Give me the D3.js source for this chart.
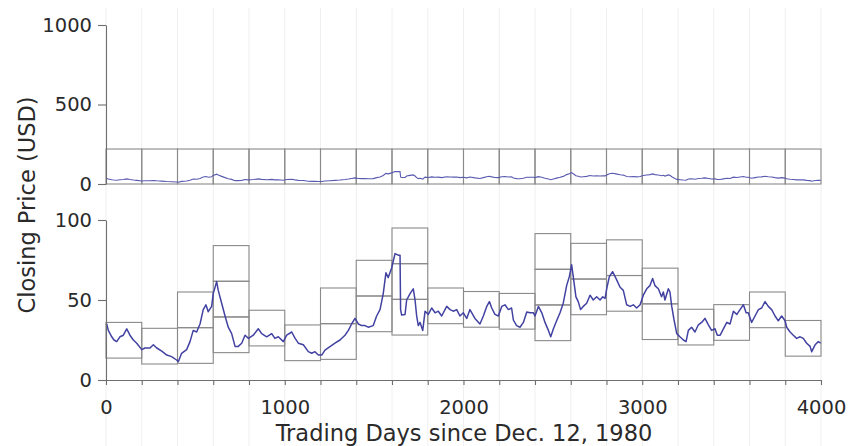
<!DOCTYPE html>
<html><head><meta charset="utf-8">
<script src="https://cdn.jsdelivr.net/npm/d3@7"></script>
<style>
body{margin:0;background:#fff}
svg{display:block}
text{font-family:"DejaVu Sans",sans-serif;fill:#2a2a2a}
</style>
</head><body>
<svg id="c" width="850" height="446"></svg>
<script>
// ---- data ----
const days = [0,4,13,32,45,60,78,97,116,134,153,172,200,218,246,265,284,312,340,367,395,405,423,451,470,488,507,526,544,559,572,591,600,619,628,647,666,684,703,722,740,759,778,797,824,852,871,899,927,945,964,992,1011,1039,1058,1076,1104,1132,1151,1169,1188,1207,1225,1253,1281,1309,1337,1356,1374,1393,1412,1430,1449,1467,1495,1514,1533,1551,1566,1579,1598,1617,1635,1645,1648,1654,1673,1682,1701,1719,1729,1738,1747,1757,1772,1785,1803,1822,1841,1859,1878,1906,1925,1943,1962,1980,1999,2018,2036,2064,2092,2111,2130,2145,2158,2176,2195,2214,2232,2251,2269,2279,2297,2316,2335,2354,2372,2391,2400,2419,2438,2456,2475,2488,2503,2521,2540,2558,2577,2592,2605,2614,2629,2642,2655,2670,2689,2708,2726,2745,2764,2779,2792,2801,2816,2834,2853,2876,2894,2913,2932,2950,2969,2988,3006,3025,3043,3058,3071,3090,3108,3118,3127,3146,3155,3165,3178,3193,3211,3230,3245,3258,3276,3295,3314,3332,3351,3370,3388,3407,3420,3436,3454,3473,3491,3510,3529,3547,3566,3581,3593,3612,3631,3650,3668,3687,3705,3724,3743,3761,3780,3799,3808,3827,3845,3864,3883,3901,3920,3939,3948,3967,3985,3998];
const prices = [34.5,35,31,27,25,24,27,28,32,28,25,23,19,20,20,22,20,18,15.6,14.6,12.5,11.5,16.7,19,24,31,30,35,44,47,42.7,46,54,61.5,56,48,40,33,29,21,21,23,28,26,28,32,29,27,29,26,27,24,28,30,26,23,22,17.7,16.7,17.7,15.6,15.6,18.7,20.8,23,25,28,31,35,38.5,35,34,34,33,34,40,44,54,67,64,70,79,78,78,44,40.6,41,50,54,57,50,40,34,36,31,43,41,45,42,43,40,46,44,43,44,40,42,38.5,44,38.5,35,40,46,49,45,41,40,46,47,44,45,37.5,34,33,36,42.5,42,42,40,46,42,36,31,27,32,37,42,48,59,64.6,72,64.6,52,49,44,46,48,53,50,52,50,52,51,57,64.6,67.7,63.5,58,56,47,46,47,45,47,53,57,59,63.5,59,57,52,55,50,57,55,46,37.5,29,27,25,24,31,33,30,34.5,36,38.5,34.5,31,32,28,28,32,36,35,43,41,44,47,42,42,36,40,44,45,49,46,44,40,37,40,37,33,30,28,26,27,26,23,21,17.7,22,24,23];

const segmentStarts = [0,200,400,600,800,1000,1200,1400,1600,1800,2000,2200,2400,2600,2800,3000,3200,3400,3600,3800];
const segmentLength = 200;
const cellHeight = 22.3;
const boxBase  = [13.7,10.0,10.4,17.1,21.3,12.1,12.9,30.2,28.1,35.2,33.0,31.8,24.6,40.8,43.0,25.3,21.9,24.8,32.7,14.9];
const boxCells = [1,1,2,3,1,1,2,2,3,1,1,1,3,2,2,2,1,1,1,1];
const overviewBoxRange = [0, 220];

const xTickLabels = [0,1000,2000,3000,4000];
const xMinorTicks = [0,200,400,600,800,1000,1200,1400,1600,1800,2000,2200,2400,2600,2800,3000,3200,3400,3600,3800,4000];
const yTicksTop = [0,500,1000];
const yTicksBottom = [0,50,100];
const xTitle = "Trading Days since Dec. 12, 1980";
const yTitle = "Closing Price (USD)";

// ---- drawing ----
const svg = d3.select("#c");
const x = d3.scaleLinear().domain([0,4000]).range([106,821]);
const yTop = d3.scaleLinear().domain([0,1000]).range([184,25]);
const yBot = d3.scaleLinear().domain([0,100]).range([380,220]);

const series = days.map((d,i)=>({d, p:prices[i]}));

// faint gridlines
svg.append("g").selectAll("line").data(xMinorTicks).join("line")
  .attr("x1",d=>x(d)).attr("x2",d=>x(d)).attr("y1",8).attr("y2",446)
  .attr("stroke","#f0f0f0").attr("stroke-width",1);

// overview boxes
svg.append("g").selectAll("rect").data(segmentStarts).join("rect")
  .attr("x",d=>x(d)).attr("width",d=>x(d+segmentLength)-x(d))
  .attr("y",yTop(overviewBoxRange[1])).attr("height",yTop(overviewBoxRange[0])-yTop(overviewBoxRange[1]))
  .attr("fill","none").attr("stroke","#8a8a8a").attr("stroke-width",1.1);

// detail boxes
const cells = [];
segmentStarts.forEach((s,i)=>{ for(let k=0;k<boxCells[i];k++) cells.push({s, lo:boxBase[i]+k*cellHeight, hi:boxBase[i]+(k+1)*cellHeight}); });
svg.append("g").selectAll("rect").data(cells).join("rect")
  .attr("x",d=>x(d.s)).attr("width",d=>x(d.s+segmentLength)-x(d.s))
  .attr("y",d=>yBot(d.hi)).attr("height",d=>yBot(d.lo)-yBot(d.hi))
  .attr("fill","none").attr("stroke","#8a8a8a").attr("stroke-width",1.1);

// lines
svg.append("path").datum(series)
  .attr("d", d3.line().x(d=>x(d.d)).y(d=>yTop(d.p)))
  .attr("fill","none").attr("stroke","#5a5ab0").attr("stroke-width",1.1);
svg.append("path").datum(series)
  .attr("d", d3.line().x(d=>x(d.d)).y(d=>yBot(d.p)))
  .attr("fill","none").attr("stroke","#4242a2").attr("stroke-width",1.5).attr("stroke-linejoin","round");

// axes
function styleAxis(g){
  g.selectAll("path.domain").attr("stroke","#6e6e6e").attr("stroke-width",1.1);
  g.selectAll(".tick line").attr("stroke","#6e6e6e").attr("stroke-width",1.1);
  g.selectAll(".tick text").attr("font-family","DejaVu Sans").attr("font-size","19.5px").attr("fill","#2a2a2a");
}
const fmt = d => String(d);
svg.append("g").attr("transform","translate(106,0)")
  .call(d3.axisLeft(yTop).tickValues(yTicksTop).tickFormat(fmt).tickSize(8).tickSizeOuter(0).tickPadding(6))
  .call(styleAxis);
svg.append("g").attr("transform","translate(106,0)")
  .call(d3.axisLeft(yBot).tickValues(yTicksBottom).tickFormat(fmt).tickSize(8).tickSizeOuter(0).tickPadding(6))
  .call(styleAxis);
svg.append("g").attr("transform","translate(0,380)")
  .call(d3.axisBottom(x).tickValues(xMinorTicks).tickSize(5).tickSizeOuter(0).tickPadding(15)
        .tickFormat(d=>xTickLabels.includes(d)?String(d):""))
  .call(styleAxis);

// titles
svg.append("text").attr("x",464).attr("y",441).attr("text-anchor","middle")
  .attr("font-size","22.5px").text(xTitle);
svg.append("text").attr("transform","translate(34.5,205) rotate(-90)").attr("text-anchor","middle")
  .attr("font-size","22.5px").text(yTitle);
</script>
</body></html>
